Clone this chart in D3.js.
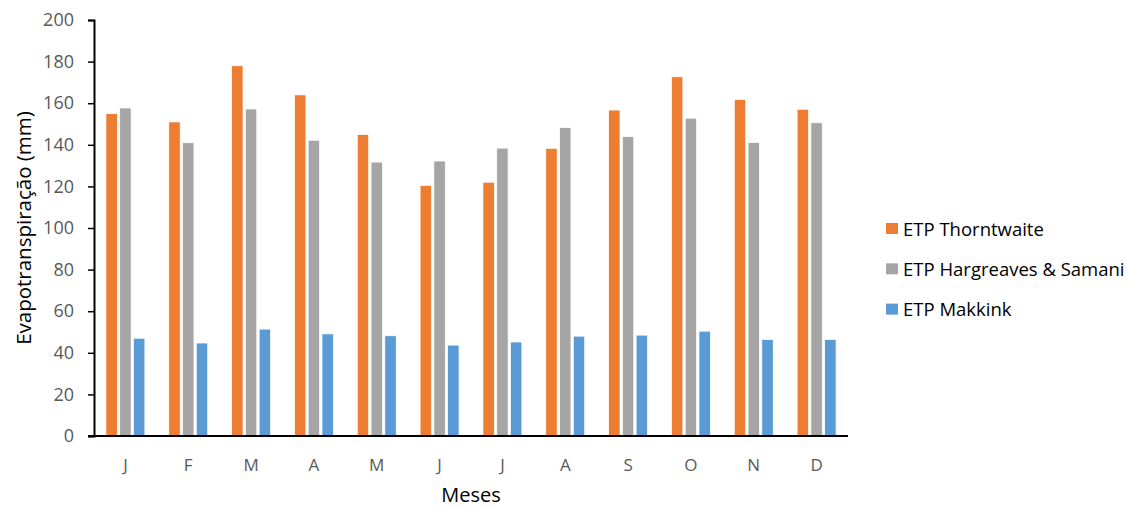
<!DOCTYPE html>
<html>
<head>
<meta charset="utf-8">
<script src="https://cdn.jsdelivr.net/npm/d3@7"></script>
<style>
  body { margin: 0; background: #fff; }
  svg { display: block; font-family: "Open Sans", "Noto Sans", sans-serif; }
</style>
</head>
<body>
<svg id="chart" width="1129" height="508"></svg>
<script>
const months = ["J", "F", "M", "A", "M", "J", "J", "A", "S", "O", "N", "D"];
const seriesNames = ["ETP Thorntwaite", "ETP Hargreaves & Samani", "ETP Makkink"];
const thornthwaite = [155, 151, 178, 164, 145, 120.5, 122, 138.3, 156.7, 172.7, 161.7, 157.1];
const hargreaves = [157.7, 141, 157.2, 142.2, 131.7, 132.2, 138.4, 148.3, 143.9, 152.8, 141.1, 150.6];
const makkink = [47, 44.7, 51.4, 49.1, 48.2, 43.7, 45.2, 48, 48.5, 50.4, 46.4, 46.4];
const yTicks = [0, 20, 40, 60, 80, 100, 120, 140, 160, 180, 200];
const colors = ["#ED7D31", "#A5A5A5", "#5B9BD5"];

const seriesValues = [thornthwaite, hargreaves, makkink];
const FONT = "'Open Sans', 'Noto Sans', sans-serif";

const svg = d3.select("#chart");
const mLeft = 94, mRight = 848, mTop = 20, mBottom = 436;

const x0 = d3.scaleBand().domain(d3.range(months.length)).range([mLeft, mRight])
  .paddingInner(0.38).paddingOuter(0.19);
const x1 = d3.scaleBand().domain(d3.range(seriesNames.length)).range([0, x0.bandwidth()])
  .paddingInner(0.17).paddingOuter(0);
const y = d3.scaleLinear().domain([0, 200]).range([mBottom, mTop]);

// bars
const groups = svg.append("g").selectAll("g")
  .data(months.map((m, i) => i))
  .join("g")
  .attr("transform", i => `translate(${x0(i)},0)`);

groups.selectAll("rect")
  .data(i => seriesValues.map((vals, s) => ({ s, v: vals[i] })))
  .join("rect")
  .attr("x", d => x1(d.s))
  .attr("width", x1.bandwidth())
  .attr("y", d => y(d.v))
  .attr("height", d => y(0) - y(d.v))
  .attr("fill", d => colors[d.s])
  .attr("stroke", "#fff")
  .attr("stroke-width", 0.75);

// y axis
const yAxis = d3.axisLeft(y).tickValues(yTicks).tickSize(6).tickPadding(14);
const gy = svg.append("g").attr("transform", `translate(${mLeft},0)`).call(yAxis);
gy.select(".domain").attr("stroke", "#000").attr("stroke-width", 2);
gy.selectAll(".tick line").attr("stroke", "#000").attr("stroke-width", 1.5);
gy.selectAll(".tick text").attr("fill", "#595959").attr("font-size", 18)
  .attr("font-family", FONT);

// x axis
const xAxis = d3.axisBottom(x0).tickFormat(i => months[i]).tickSize(0).tickPadding(23);
const gx = svg.append("g").attr("transform", `translate(0,${mBottom})`).call(xAxis);
gx.select(".domain").attr("stroke", "#000").attr("stroke-width", 2)
  .attr("d", `M${mLeft - 6},0H${mRight}`);
gx.selectAll(".tick text").attr("fill", "#595959").attr("font-size", 17)
  .attr("font-family", FONT);

// axis titles
svg.append("text")
  .attr("x", (mLeft + mRight) / 2).attr("y", 502)
  .attr("text-anchor", "middle")
  .attr("font-size", 20).attr("fill", "#000")
  .text("Meses");

svg.append("text")
  .attr("transform", `translate(31,${(mTop + mBottom) / 2}) rotate(-90)`)
  .attr("text-anchor", "middle")
  .attr("font-size", 20.5).attr("fill", "#000")
  .text("Evapotranspiração (mm)");

// legend
const legend = svg.append("g").selectAll("g")
  .data(seriesNames)
  .join("g")
  .attr("transform", (d, i) => `translate(886,${228.5 + i * 40.3})`);
legend.append("rect")
  .attr("x", 0).attr("y", -5.5).attr("width", 12).attr("height", 11)
  .attr("fill", (d, i) => colors[i]);
legend.append("text")
  .attr("x", 17).attr("y", 7)
  .attr("font-size", 18.5).attr("fill", "#000")
  .text(d => d);
</script>
</body>
</html>
